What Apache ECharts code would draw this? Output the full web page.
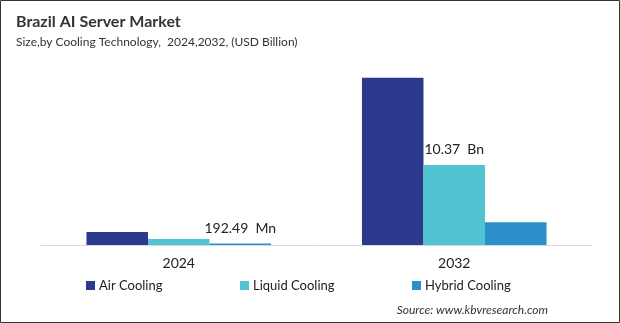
<!DOCTYPE html>
<html><head><meta charset="utf-8">
<script src="https://cdn.jsdelivr.net/npm/echarts@6/dist/echarts.min.js"></script>
<style>html,body{margin:0;padding:0;background:#fff}#c{width:620px;height:323px}</style>
</head><body><div id="c"></div>
<script>
var categories = ['2024', '2032'];
var seriesNames = ['Air Cooling', 'Liquid Cooling', 'Hybrid Cooling'];
var airCooling = [1.69, 21.65];
var liquidCooling = [0.78, 10.37];
var hybridCooling = [0.19249, 2.94];
var liquidLabels = [null, '10.37  Bn'];
var hybridLabels = ['192.49  Mn', null];
var colors = ['#2c3a8e', '#50c4d0', '#2b8fcb'];

var FONT = 'Lato';
function build(vals, labels) {
  return vals.map(function (v, i) {
    var t = labels ? labels[i] : null;
    var d = { value: v };
    if (t) d.label = { show: true, formatter: t };
    return d;
  });
}
var chart = echarts.init(document.getElementById('c'), null, { renderer: 'canvas' });
var legendLefts = [86, 240, 412];
var option = {
  animation: false,
  textStyle: { fontFamily: FONT },
  title: [
    { text: 'Brazil AI Server Market', left: 11, top: 9,
      textStyle: { fontFamily: FONT, fontSize: 16, fontWeight: 'bold', color: '#333' } },
    { text: 'Size,by Cooling Technology,  2024,2032, (USD Billion)', left: 11, top: 31,
      textStyle: { fontFamily: FONT, fontSize: 12, fontWeight: 'normal', color: '#333' } },
    { text: 'Source: www.kbvresearch.com', right: 67, top: 299,
      textStyle: { fontFamily: FONT, fontSize: 12, fontStyle: 'italic', fontWeight: 'normal', color: '#333' } }
  ],
  legend: seriesNames.map(function (n, i) {
    return { data: [n], left: legendLefts[i], top: 279, padding: 0, itemWidth: 9, itemHeight: 9, itemGap: 0,
      icon: 'rect', textStyle: { fontFamily: FONT, fontSize: 13, color: '#222', padding: [0, 0, 0, -1] } };
  }),
  grid: { left: 41, right: 28, top: 52, bottom: 78 },
  xAxis: { type: 'category', data: categories,
    axisLine: { lineStyle: { color: '#d9d9d9', width: 1 } }, axisTick: { show: false },
    axisLabel: { fontFamily: FONT, fontSize: 14, color: '#222', margin: 11 } },
  yAxis: { type: 'value', min: 0, max: 25, show: false, splitLine: { show: false } },
  graphic: [{ type: 'rect', shape: { x: 0.5, y: 0.5, width: 619, height: 322 },
    style: { fill: 'none', stroke: '#333', lineWidth: 1 }, z: 100 }],
  series: [
    { name: seriesNames[0], type: 'bar', data: build(airCooling), itemStyle: { color: colors[0] },
      barGap: '0%', barCategoryGap: '33%' },
    { name: seriesNames[1], type: 'bar', data: build(liquidCooling, liquidLabels), itemStyle: { color: colors[1] },
      barGap: '0%', barCategoryGap: '33%',
      label: { position: 'top', distance: 8, fontFamily: FONT, fontSize: 14, color: '#222' } },
    { name: seriesNames[2], type: 'bar', data: build(hybridCooling, hybridLabels), itemStyle: { color: colors[2] },
      barGap: '0%', barCategoryGap: '33%',
      label: { position: 'top', distance: 8, fontFamily: FONT, fontSize: 14, color: '#222' } }
  ]
};
chart.setOption(option);
</script></body></html>
